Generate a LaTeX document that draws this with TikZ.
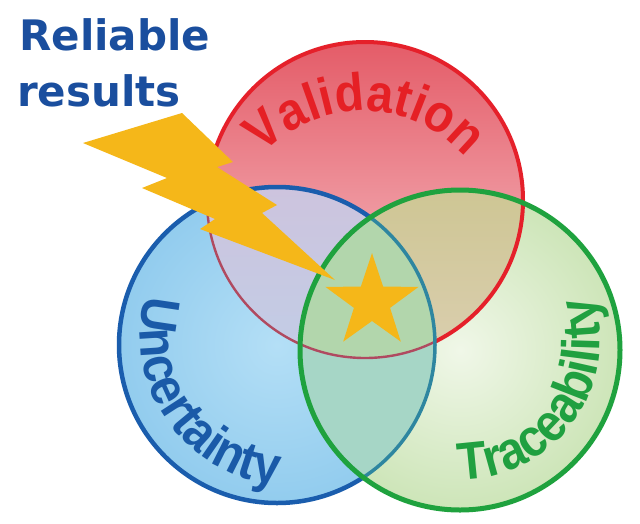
\documentclass[tikz,border=0pt]{standalone}
\usepackage{fontspec}
\newfontfamily\arcfont{Liberation Sans}[FakeStretch=0.9]
\newfontfamily\titlefont{DejaVu Sans}
\usetikzlibrary{decorations.text}
\definecolor{redstroke}{RGB}{229,32,42}
\definecolor{redtop}{RGB}{228,92,104}
\definecolor{redbot}{RGB}{248,202,207}
\definecolor{bluestroke}{RGB}{26,93,173}
\definecolor{bluein}{RGB}{180,223,246}
\definecolor{blueout}{RGB}{146,204,238}
\definecolor{greenstroke}{RGB}{31,162,62}
\definecolor{greenin}{RGB}{240,247,232}
\definecolor{greenout}{RGB}{205,229,184}
\definecolor{lavtop}{RGB}{205,196,222}
\definecolor{lavbot}{RGB}{184,212,236}
\definecolor{khakitop}{RGB}{206,198,148}
\definecolor{khakibot}{RGB}{230,214,200}
\definecolor{tealfill}{RGB}{166,214,198}
\definecolor{triplefill}{RGB}{178,214,172}
\definecolor{dimred}{RGB}{176,74,96}
\definecolor{dimblue}{RGB}{46,134,160}
\definecolor{boltc}{RGB}{245,183,25}
\definecolor{titleblue}{RGB}{26,78,158}
\definecolor{valred}{RGB}{229,32,37}
\definecolor{uncblue}{RGB}{26,90,168}
\definecolor{tracgreen}{RGB}{32,160,64}
\begin{document}
\begin{tikzpicture}[x=1pt,y=1pt,
  titletext/.style={anchor=base west, inner sep=0pt, text=titleblue,
    font=\titlefont\bfseries\fontsize{42}{50}\selectfont},
  arcword/.style={decorate, decoration={text along path, text align=center,
    text color=#1}},
  yellowshape/.style={fill=boltc}]
\useasboundingbox (0,0) rectangle (640,-523);
\fill[white] (0,0) rectangle (640,-523);
\coordinate (cR) at (365,-200);
\coordinate (cB) at (277,-345);
\coordinate (cG) at (460,-350);

% base fills
\shade[top color=redtop, bottom color=redbot] (cR) circle[radius=158];
\shade[inner color=bluein, outer color=blueout] (cB) circle[radius=158];
\shade[inner color=greenin, outer color=greenout] (cG) circle[radius=160];
% overlaps
\begin{scope}
  \clip (cR) circle[radius=158];
  \shade[top color=lavtop, bottom color=lavbot] (cB) circle[radius=158];
\end{scope}
\begin{scope}
  \clip (cR) circle[radius=158];
  \shade[top color=khakitop, bottom color=khakibot] (cG) circle[radius=160];
\end{scope}
\begin{scope}
  \clip (cB) circle[radius=158];
  \fill[tealfill] (cG) circle[radius=160];
\end{scope}
\begin{scope}
  \clip (cB) circle[radius=158];
  \clip (cR) circle[radius=158];
  \fill[triplefill] (cG) circle[radius=160];
\end{scope}

% red outline
\begin{scope}[even odd rule]
  \clip (-10,10) rectangle (650,-533) (cB) circle[radius=158];
  \draw[redstroke, line width=4] (cR) circle[radius=158];
\end{scope}
\begin{scope}
  \clip (cB) circle[radius=158];
  \draw[dimred, line width=2.4] (cR) circle[radius=158];
\end{scope}
% blue outline
\begin{scope}[even odd rule]
  \clip (-10,10) rectangle (650,-533) (cG) circle[radius=160];
  \draw[bluestroke, line width=4.5] (cB) circle[radius=158];
\end{scope}
\begin{scope}
  \clip (cG) circle[radius=160];
  \draw[dimblue, line width=3.5] (cB) circle[radius=158];
\end{scope}
% green outline
\draw[greenstroke, line width=5] (cG) circle[radius=160];

% curved labels
\path[arcword=valred, decoration={text={|\arcfont\bfseries\fontsize{53}{60}\selectfont|Validation}}]
  (363,-248) ++(160:137) arc[start angle=160, end angle=18, radius=137];
\path[arcword=uncblue, decoration={text={|\arcfont\bfseries\fontsize{53}{60}\selectfont|Uncertainty}}]
  (290,-335) ++(140:150) arc[start angle=140, end angle=290, radius=150];
\path[arcword=tracgreen, decoration={text={|\arcfont\bfseries\fontsize{53}{60}\selectfont|Traceability}}]
  (460,-340) ++(250:140) arc[start angle=250, end angle=398, radius=140];

% lightning bolt and star
\fill[yellowshape] (83,-143) -- (182,-113) -- (233,-162) -- (217,-167) -- (277,-205)
  -- (262,-213) -- (335,-280) -- (200,-229) -- (215,-219) -- (142,-188)
  -- (167,-178) -- cycle;
\fill[yellowshape, shift={(372,-302)}] (90:49) -- (126:19) -- (162:49) -- (198:19)
  -- (234:49) -- (270:19) -- (306:49) -- (342:19) -- (18:49) -- (54:19) -- cycle;

% title
\node[titletext] (rel) at (19,-50) {Reliable};
\node[titletext] (res) at (17,-106) {results};
\end{tikzpicture}
\end{document}
